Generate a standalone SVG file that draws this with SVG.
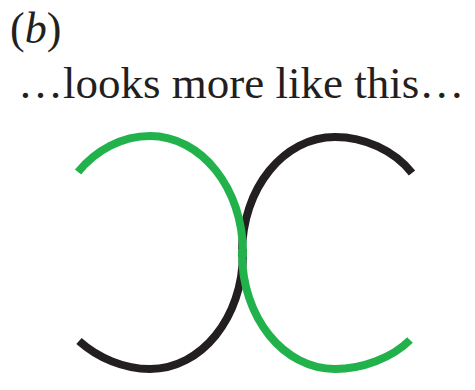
<svg xmlns="http://www.w3.org/2000/svg" width="475" height="390" viewBox="0 0 475 390">
<style>
  text { font-family: "Liberation Serif", "Times New Roman", serif; fill: #231f20; }
  .arc { fill: none; stroke-width: 8; stroke-linecap: butt; }
  .black { stroke: #231f20; }
  .green { stroke: #22b24c; }
</style>
<rect width="475" height="390" fill="#ffffff"/>
<g id="label">
  <text x="10" y="43" font-size="44">(<tspan font-style="italic">b</tspan>)</text>
</g>
<g id="caption">
  <text x="18" y="98" font-size="45">…looks more like this…</text>
</g>
<g id="curves">
  <path id="black-curve" class="arc black" d="M 412,173 C 394,150 364,137 335,137 C 284,137 242,188 242,253 C 242,253 243,253 243,253 C 243,318 201,369 150,369 C 124,369 98,358 79,341"/>
  <path id="green-curve" class="arc green" d="M 78,172 C 96,150 122,136 150,136 C 201,136 243,188 243,253 C 243,253 242,253 242,253 C 242,318 284,369 335,369 C 362,369 392,358 410,340"/>
</g>
</svg>
